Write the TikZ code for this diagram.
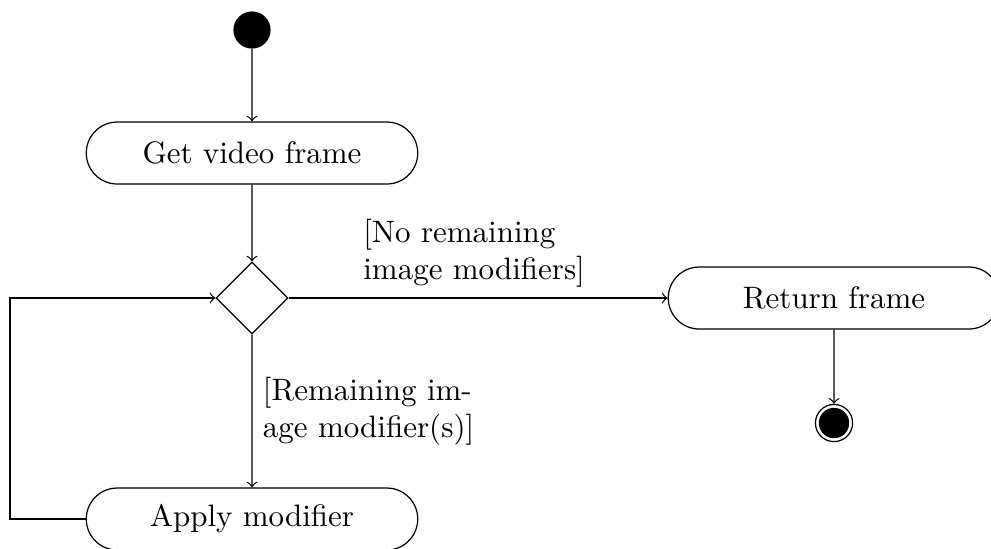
\documentclass[tikz,border=0pt]{standalone}
\usetikzlibrary{shapes.misc,shapes.geometric}
\begin{document}
\begin{tikzpicture}[x=0.3226pt,y=-0.3226pt,
  action/.style={rounded rectangle, draw, minimum width=113.6pt, minimum height=20pt},
  decision/.style={diamond, draw, minimum size=23.2pt, inner sep=0pt},
  initial/.style={circle, fill=black, minimum size=12pt, inner sep=0pt},
  final/.style={circle, draw, minimum size=12pt, inner sep=0pt,
    path picture={\fill[black] (path picture bounding box.center) circle (4.9pt);}},
  flow/.style={->}]
\useasboundingbox (0,0) rectangle (991,548);
\clip (0,0) rectangle (991,548);

\node[initial] (start) at (252,30) {};
\node[action] (get) at (252,153) {Get video frame};
\node[decision] (dec) at (252,298) {};
\node[action] (ret) at (834,298) {Return frame};
\node[final] (stop) at (834,423) {};
\node[action] (apply) at (252,519) {Apply modifier};
\coordinate (loopbot) at (10,519);
\coordinate (looptop) at (10,298);

\draw[flow] (start) -- (get);
\draw[flow] (get) -- (dec);
\draw[flow] (dec) -- node[midway, above, align=left, xshift=-1.3pt] {[No remaining\\image modifiers]} (ret);
\draw[flow] (ret) -- (stop);
\draw[flow] (dec) -- node[midway, right, align=left] {[Remaining im-\\age modifier(s)]} (apply);
\draw[flow] (apply.west) -- (loopbot) -- (looptop) -- (dec.west);
\end{tikzpicture}
\end{document}
